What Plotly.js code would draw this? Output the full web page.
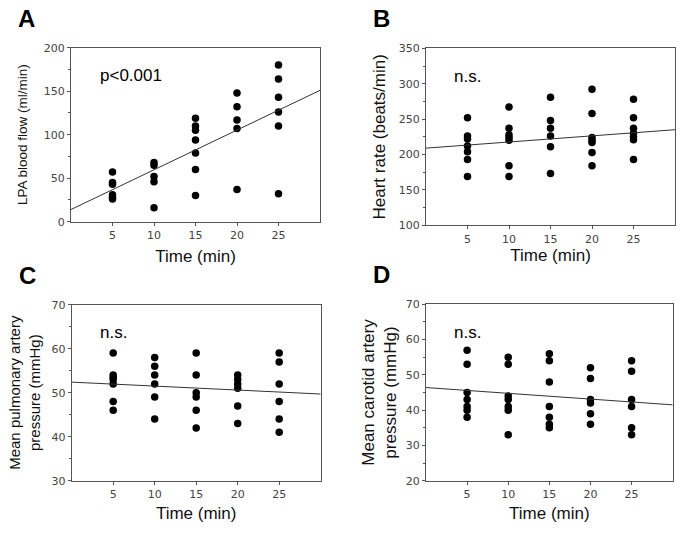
<!DOCTYPE html>
<html>
<head>
<meta charset="utf-8">
<script src="https://cdn.plot.ly/plotly-3.0.1.min.js"></script>
<style>html,body{margin:0;padding:0;background:#fff;}#chart{width:685px;height:536px;}</style>
</head>
<body>
<div id="chart"></div>
<script>
// ---- Data ----
const times = [5, 10, 15, 20, 25];

// Panel A: LPA blood flow (ml/min), one list per time point
const lpaFlow = [
  [57, 45, 43, 31, 28, 26],
  [68, 65, 52, 46, 16],
  [119, 110, 105, 94, 79, 60, 30],
  [148, 132, 117, 107, 37],
  [180, 164, 143, 126, 110, 32]
];
// Panel B: heart rate (beats/min)
const heartRate = [
  [252, 226, 222, 212, 204, 193, 169],
  [267, 237, 228, 224, 220, 184, 169],
  [281, 248, 237, 226, 211, 173],
  [292, 258, 224, 220, 217, 203, 184],
  [278, 252, 237, 230, 225, 221, 193]
];
// Panel C: mean pulmonary artery pressure (mmHg)
const mpap = [
  [59, 54, 53.5, 53, 52, 48, 46],
  [58, 56, 54, 52, 49, 44],
  [59, 54, 50, 49, 46, 42],
  [54, 53, 52, 51, 47, 43],
  [59, 57, 52, 48, 44, 41]
];
// Panel D: mean carotid artery pressure (mmHg)
const mcap = [
  [57, 53, 45, 43, 41, 40, 38],
  [55, 53, 44, 43, 41, 40, 33],
  [56, 54, 48, 41, 38, 36, 35],
  [52, 49, 43, 42, 39, 36],
  [54, 51, 43, 41, 35, 33]
];

// Regression line end points (at time 0 and 30 min)
const fitTimes = [0, 30];
const lpaFit = [14, 151];
const hrFit = [209, 235];
const mpapFit = [52.4, 49.7];
const mcapFit = [46.4, 41.5];

const panelLetters = ['A', 'B', 'C', 'D'];
const statLabels = ['p<0.001', 'n.s.', 'n.s.', 'n.s.'];
const yTitles = ['LPA blood flow (ml/min)', 'Heart rate (beats/min)',
  'Mean pulmonary artery<br>pressure (mmHg)', 'Mean carotid artery<br>pressure (mmHg)'];
const xTitle = 'Time (min)';

// ---- Build traces ----
function flatten(groups) {
  const x = [], y = [];
  groups.forEach((g, i) => g.forEach(v => { x.push(times[i]); y.push(v); }));
  return {x, y};
}
const panels = [
  {vals: lpaFlow, fit: lpaFit},
  {vals: heartRate, fit: hrFit},
  {vals: mpap, fit: mpapFit},
  {vals: mcap, fit: mcapFit}
];
const axSuffix = ['', '2', '3', '4'];
const traces = [];
panels.forEach((p, i) => {
  const d = flatten(p.vals);
  traces.push({
    type: 'scatter', mode: 'markers', x: d.x, y: d.y,
    xaxis: 'x' + axSuffix[i], yaxis: 'y' + axSuffix[i],
    marker: {color: '#000', size: 7.5}, showlegend: false, hoverinfo: 'x+y'
  });
  traces.push({
    type: 'scatter', mode: 'lines', x: fitTimes, y: p.fit,
    xaxis: 'x' + axSuffix[i], yaxis: 'y' + axSuffix[i],
    line: {color: '#333', width: 1}, showlegend: false, hoverinfo: 'skip'
  });
});

// ---- Layout ----
const W = 685, H = 536;
const tickFont = {family: 'DejaVu Sans, sans-serif', size: 11, color: '#444'};
const boxes = [
  {l: 71, r: 320, t: 47.7, b: 221.7},
  {l: 426, r: 675, t: 48.3, b: 225.3},
  {l: 71.7, r: 320.7, t: 304.7, b: 480.7},
  {l: 426, r: 672.7, t: 304.3, b: 480.7}
];
const yRanges = [[0, 200], [100, 350], [30, 70], [20, 70]];
const yDticks = [50, 50, 10, 10];
const yTitleSizes = [13.5, 17, 15, 17];
const yStandoffs = [13, 8, 7, 4];
const xStandoffs = [9, 4, 7, 7];

const layout = {
  width: W, height: H,
  margin: {l: 0, r: 0, t: 0, b: 0},
  paper_bgcolor: '#fff', plot_bgcolor: '#fff',
  font: {family: 'Liberation Sans, Arial, sans-serif', color: '#000'},
  showlegend: false,
  annotations: []
};
boxes.forEach((b, i) => {
  const s = axSuffix[i];
  layout['xaxis' + s] = {
    domain: [b.l / W, b.r / W], anchor: 'y' + s,
    range: [0, 30], tickvals: times, ticktext: times.map(String),
    ticks: 'outside', ticklen: 3, tickcolor: '#555',
    showline: true, mirror: true, linecolor: '#555', linewidth: 1,
    showgrid: false, zeroline: false, tickfont: tickFont,
    title: {text: xTitle, font: {size: 17, color: '#111'}, standoff: xStandoffs[i]},
    automargin: false
  };
  layout['yaxis' + s] = {
    domain: [1 - b.b / H, 1 - b.t / H], anchor: 'x' + s,
    range: yRanges[i], dtick: yDticks[i],
    ticks: 'outside', ticklen: 3, tickcolor: '#555',
    minor: {dtick: yDticks[i] / 2, ticks: 'outside', ticklen: 2, tickcolor: '#555', showgrid: false},
    showline: true, mirror: true, linecolor: '#555', linewidth: 1,
    showgrid: false, zeroline: false, tickfont: tickFont,
    title: {text: yTitles[i], font: {size: yTitleSizes[i], color: '#111'}, standoff: yStandoffs[i]},
    automargin: false
  };
  layout.annotations.push({
    xref: 'paper', yref: 'paper', x: (b.l - 55) / W, y: 1 - (b.t - 45) / H,
    xanchor: 'left', yanchor: 'top', showarrow: false,
    text: '<b>' + panelLetters[i] + '</b>',
    font: {size: 24, family: 'Liberation Sans, Arial, sans-serif', color: '#000'}
  });
  layout.annotations.push({
    xref: 'x' + s + ' domain', yref: 'y' + s + ' domain',
    x: i === 0 ? 0.11 : 0.105, y: 0.84,
    xanchor: 'left', yanchor: 'middle', showarrow: false,
    text: statLabels[i],
    font: {size: 17, family: 'Liberation Sans, Arial, sans-serif', color: '#000'}
  });
});

Plotly.newPlot('chart', traces, layout, {displayModeBar: false, staticPlot: true});
</script>
</body>
</html>
